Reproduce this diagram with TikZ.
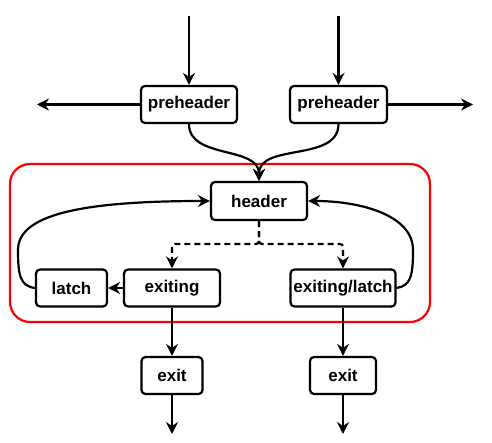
\documentclass[tikz,border=0pt]{standalone}
\usepackage{fontspec}
\setmainfont{Liberation Sans}
\usepackage{tikz}
\usepackage{xcolor}
\usetikzlibrary{arrows.meta}
\tikzset{
	block/.style = {shape=rectangle, rounded corners=4pt,
		draw, align=center, line width=2.2pt,
		minimum height=37pt, inner sep=0pt},
	flow/.style  = {draw, -{Stealth[length=12pt,width=12pt,inset=4pt]}, line width=2.2pt},
	maybe/.style = {flow, dash pattern=on 6pt off 4pt, rounded corners=3pt},
	loopbox/.style = {draw=red, line width=2.2pt, rounded corners=20pt}
}
\begin{document}
\begin{tikzpicture}
[
x                 = 1pt,
y                 = -1pt,
every node/.style = {font=\fontsize{17}{18}\selectfont\bfseries}
]
\useasboundingbox (0,0) rectangle (492,443);
\draw [loopbox] (10,164) rectangle (430,322);
% blocks
\node [block, minimum width=96pt] (pre1) at (189,104.5) {preheader};
\node [block, minimum width=97pt] (pre2) at (338.5,104.5) {preheader};
\node [block, minimum width=96pt, minimum height=38pt] (header) at (259,201) {header};
\node [block, minimum width=71pt] (latch) at (71.5,288) {latch};
\node [block, minimum width=96pt] (exiting) at (172,288) {exiting};
\node [block, minimum width=105pt] (exlatch) at (343,288) {exiting/latch};
\node [block, minimum width=61pt] (exit1) at (172,375.5) {exit};
\node [block, minimum width=66pt] (exit2) at (343,375.5) {exit};
% free ends
\coordinate (in1) at (189,16);
\coordinate (in2) at (338.5,16);
\coordinate (out1) at (37,104.5);
\coordinate (out2) at (473,104.5);
\coordinate (end1) at (172,434);
\coordinate (end2) at (343,434);
\coordinate (split) at (259,244);
% edges
\draw [flow] (in1) -- (pre1);
\draw [flow] (in2) -- (pre2);
\draw [flow] (pre1) -- (out1);
\draw [flow] (pre2) -- (out2);
\draw [flow] (pre1.south) to[out=-90,in=90] (header.north);
\draw [flow] (pre2.south) to[out=-90,in=90] (header.north);
\draw [maybe] (header.south) -- (split) -| (exiting.north);
\draw [maybe] (header.south) -- (split) -| (exlatch.north);
\draw [flow] (exiting) -- (latch);
\draw [flow] (latch.west) .. controls (20,286) and (18,275) .. (18,250)
	.. controls (18,215) and (80,201) .. (header.west);
\draw [flow] (exlatch.east) .. controls (411,286) and (413,275) .. (413,250)
	.. controls (413,215) and (360,201) .. (header.east);
\draw [flow] (exiting) -- (exit1);
\draw [flow] (exlatch) -- (exit2);
\draw [flow] (exit1) -- (end1);
\draw [flow] (exit2) -- (end2);
\end{tikzpicture}
\end{document}
